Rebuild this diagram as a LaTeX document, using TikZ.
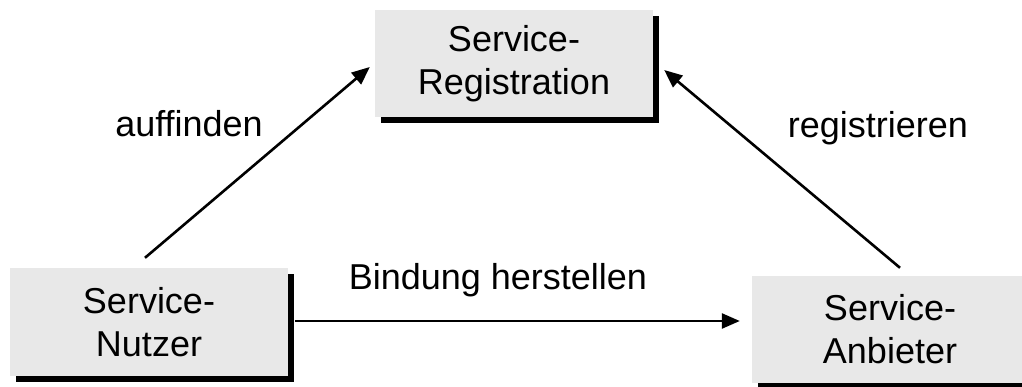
\documentclass[tikz,border=0pt]{standalone}
\usepackage{fontspec}
\setmainfont{Liberation Sans}
\usetikzlibrary{arrows.meta,shadows}
\begin{document}
\begin{tikzpicture}[x=1pt,y=-1pt,
  role/.style={fill=black!9, draw=none, inner sep=0pt, align=center,
    font=\fontsize{36}{43}\selectfont,
    drop shadow={shadow xshift=6pt, shadow yshift=-6pt, fill=black, opacity=1}},
  lbl/.style={font=\fontsize{36}{43}\selectfont, inner sep=0pt, anchor=base},
  arr/.style={line width=2.6pt, -{Triangle[length=18pt,width=15pt]}}]
  \useasboundingbox (0,0) rectangle (1022,387);
  \clip (0,0) rectangle (1022,387);

  % the three roles
  \node[role, minimum width=278pt, minimum height=107pt] (reg) at (514,63.5)
    {Service-\\Registration};
  \node[role, minimum width=278pt, minimum height=108pt] (nutz) at (149,322)
    {Service-\\Nutzer};
  \node[role, minimum width=276pt, minimum height=107pt] (anb) at (890,329.5)
    {Service-\\Anbieter};

  % interactions
  \draw[arr] ([shift={(-4,-10)}]nutz.north) -- ([shift={(-5,3.5)}]reg.west);
  \draw[arr] ([shift={(10,-8)}]anb.north) -- ([shift={(11,6.5)}]reg.east);
  \draw[arr] ([shift={(7,-1)}]nutz.east) -- ([shift={(-12,-8.5)}]anb.west);

  % labels
  \node[lbl] (lfind) at (189,137) {auffinden};
  \node[lbl] (lreg) at (878,138) {registrieren};
  \node[lbl] (lbind) at (498,289) {Bindung herstellen};
\end{tikzpicture}
\end{document}
